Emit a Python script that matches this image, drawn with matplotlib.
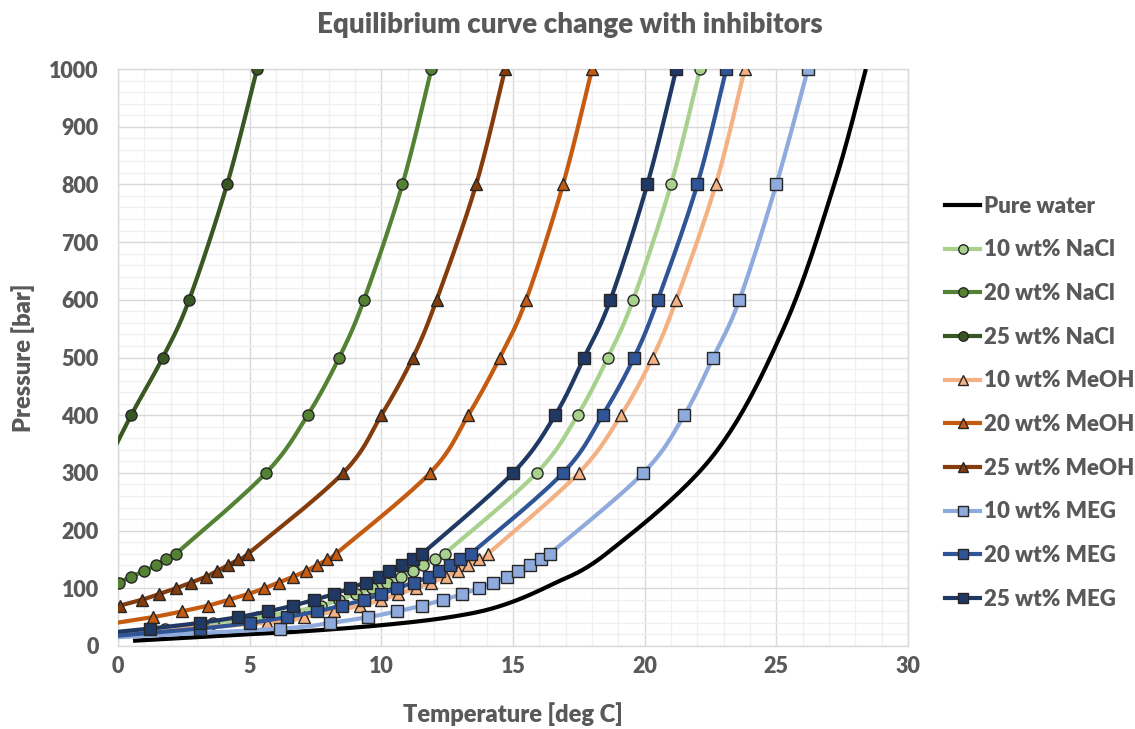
import numpy as np
import matplotlib
matplotlib.use("Agg")
import matplotlib.pyplot as plt
from matplotlib.ticker import MultipleLocator
from matplotlib.lines import Line2D

# Hydrate equilibrium data: temperature [deg C] vs pressure [bar]
labels = ["Pure water", "10 wt% NaCl", "20 wt% NaCl", "25 wt% NaCl",
          "10 wt% MeOH", "20 wt% MeOH", "25 wt% MeOH",
          "10 wt% MEG", "20 wt% MEG", "25 wt% MEG"]

water_T = [0.57, 4.4, 6.9, 10.0, 12.6, 14.5, 16.4, 18.6, 22.6, 25.3, 27.2, 28.4]
water_P = [9, 19, 25, 36, 50, 69, 105, 162, 330, 553, 800, 1000]

nacl10_T = [-1.0, 1.8, 3.6, 5.3, 6.7, 7.7, 8.4, 9.05, 9.65, 10.2, 10.75, 11.2, 11.6, 12.04, 12.4,
            15.9, 17.45, 18.6, 19.56, 21.0, 22.1]
nacl10_P = [20, 30, 40, 50, 60, 70, 80, 90, 100, 110, 120, 130, 140, 150, 160,
            300, 400, 500, 600, 800, 1000]

nacl20_T = [0.03, 0.5, 0.99, 1.45, 1.82, 2.2, 5.62, 7.2, 8.4, 9.34, 10.8, 11.9]
nacl20_P = [110, 120, 130, 140, 150, 160, 300, 400, 500, 600, 800, 1000]

nacl25_T = [-0.6, 0.5, 1.7, 2.7, 4.14, 5.28]
nacl25_P = [300, 400, 500, 600, 800, 1000]

meoh10_T = [-1.0, 5.66, 7.07, 8.2, 9.2, 10.0, 10.65, 11.3, 11.9, 12.45, 12.9, 13.3, 13.7, 14.05,
            17.5, 19.1, 20.3, 21.2, 22.7, 23.8]
meoh10_P = [20, 40, 50, 60, 70, 80, 90, 100, 110, 120, 130, 140, 150, 160,
            300, 400, 500, 600, 800, 1000]

meoh20_T = [-0.5, 1.33, 2.43, 3.42, 4.2, 4.94, 5.55, 6.1, 6.65, 7.14, 7.55, 7.95, 8.28,
            11.85, 13.3, 14.5, 15.5, 16.9, 18.0]
meoh20_P = [37, 50, 60, 70, 80, 90, 100, 110, 120, 130, 140, 150, 160,
            300, 400, 500, 600, 800, 1000]

meoh25_T = [0.08, 0.9, 1.56, 2.2, 2.78, 3.34, 3.76, 4.18, 4.57, 4.94,
            8.55, 10.0, 11.2, 12.1, 13.6, 14.7]
meoh25_P = [70, 80, 90, 100, 110, 120, 130, 140, 150, 160,
            300, 400, 500, 600, 800, 1000]

meg10_T = [-1.0, 6.15, 8.05, 9.5, 10.6, 11.55, 12.35, 13.07, 13.7, 14.24, 14.77, 15.2, 15.65, 16.06, 16.4,
           19.95, 21.5, 22.6, 23.6, 25.0, 26.2]
meg10_P = [13, 30, 40, 50, 60, 70, 80, 90, 100, 110, 120, 130, 140, 150, 160,
           300, 400, 500, 600, 800, 1000]

meg20_T = [-1.0, 3.1, 5.0, 6.4, 7.55, 8.5, 9.34, 10.0, 10.6, 11.25, 11.8, 12.2, 12.6, 13.0, 13.4,
           16.9, 18.4, 19.6, 20.5, 22.0, 23.1]
meg20_P = [14, 30, 40, 50, 60, 70, 80, 90, 100, 110, 120, 130, 140, 150, 160,
           300, 400, 500, 600, 800, 1000]

meg25_T = [-1.0, 1.2, 3.1, 4.55, 5.7, 6.65, 7.45, 8.2, 8.8, 9.4, 9.9, 10.3, 10.8, 11.2, 11.55,
           15.0, 16.6, 17.7, 18.7, 20.1, 21.2]
meg25_P = [20, 30, 40, 50, 60, 70, 80, 90, 100, 110, 120, 130, 140, 150, 160,
           300, 400, 500, 600, 800, 1000]

series_T = [water_T, nacl10_T, nacl20_T, nacl25_T, meoh10_T, meoh20_T, meoh25_T,
            meg10_T, meg20_T, meg25_T]
series_P = [water_P, nacl10_P, nacl20_P, nacl25_P, meoh10_P, meoh20_P, meoh25_P,
            meg10_P, meg20_P, meg25_P]
colors = ["#000000", "#A9D18E", "#548235", "#385723",
          "#F4B183", "#C55A11", "#843C0C",
          "#8FAADC", "#2F5597", "#203864"]
markers = [None, "o", "o", "o", "^", "^", "^", "s", "s", "s"]
msizes = [0, 8, 8, 8, 8, 8, 8, 8, 8, 8]

TEXT = "#595959"
FONT = "Lato"
WEIGHT = "heavy"


def smooth_curve(x, y, steps=24):
    """Catmull-Rom spline through the points (same look as spreadsheet smoothed lines)."""
    p = np.column_stack([x, y]).astype(float)
    ext = np.vstack([p[0], p, p[-1]])
    out = []
    t = np.linspace(0, 1, steps, endpoint=False)[:, None]
    for i in range(1, len(ext) - 2):
        p0, p1, p2, p3 = ext[i - 1], ext[i], ext[i + 1], ext[i + 2]
        c1 = p1 + (p2 - p0) / 6.0
        c2 = p2 - (p3 - p1) / 6.0
        seg = ((1 - t) ** 3) * p1 + 3 * ((1 - t) ** 2) * t * c1 + 3 * (1 - t) * t ** 2 * c2 + t ** 3 * p2
        out.append(seg)
    out.append(p[-1][None, :])
    c = np.vstack(out)
    return c[:, 0], c[:, 1]


fig = plt.figure(figsize=(11.35, 7.29), dpi=100)
ax = fig.add_axes([0.104, 0.1139, 0.696, 0.7914])

for T, P, col, mk, ms in zip(series_T, series_P, colors, markers, msizes):
    sx, sy = smooth_curve(T, P)
    ax.plot(sx, sy, color=col, lw=3.0, solid_capstyle="butt", zorder=3)
    if mk:
        ax.plot(T, P, ls="none", marker=mk, ms=ms, mfc=col, mec="#262626",
                mew=1.0, zorder=3)

ax.set_xlim(0, 30)
ax.set_ylim(0, 1000)
ax.xaxis.set_major_locator(MultipleLocator(5))
ax.xaxis.set_minor_locator(MultipleLocator(1))
ax.yaxis.set_major_locator(MultipleLocator(100))
ax.yaxis.set_minor_locator(MultipleLocator(20))
ax.grid(which="major", color="#D9D9D9", lw=1.0, zorder=0)
ax.grid(which="minor", color="#F0F0F0", lw=1.0, zorder=0)
ax.set_axisbelow(True)
for s in ax.spines.values():
    s.set_color("#D9D9D9")
    s.set_linewidth(1.0)
ax.tick_params(which="both", length=0, labelsize=15.5, labelcolor=TEXT)
ax.tick_params(axis="x", pad=7)
ax.tick_params(axis="y", pad=14)
for lab in ax.get_xticklabels() + ax.get_yticklabels():
    lab.set_fontweight(WEIGHT)
    lab.set_family(FONT)

ax.set_xlabel("Temperature [deg C]", fontsize=17, fontweight=WEIGHT, color=TEXT,
              family=FONT, labelpad=18)
ax.set_ylabel("Pressure [bar]", fontsize=17, fontweight=WEIGHT, color=TEXT,
              family=FONT, labelpad=10)
fig.text(0.502, 0.966, "Equilibrium curve change with inhibitors", ha="center",
         va="center", fontsize=20, fontweight=WEIGHT, color=TEXT, family=FONT)

handles = []
for col, mk, ms in zip(colors, markers, msizes):
    handles.append(Line2D([0], [0], color=col, lw=3.0, marker=mk, ms=ms * 0.85,
                          mfc=col, mec="#262626", mew=1.0))
leg = fig.legend(handles, labels, loc="upper left", bbox_to_anchor=(0.8247, 0.7436),
                 frameon=False, fontsize=16, labelspacing=1.02, handlelength=1.6,
                 handletextpad=0.15, borderaxespad=0)
for t in leg.get_texts():
    t.set_color(TEXT)
    t.set_fontweight(WEIGHT)
    t.set_family(FONT)

fig.savefig("out.png", dpi=100)
